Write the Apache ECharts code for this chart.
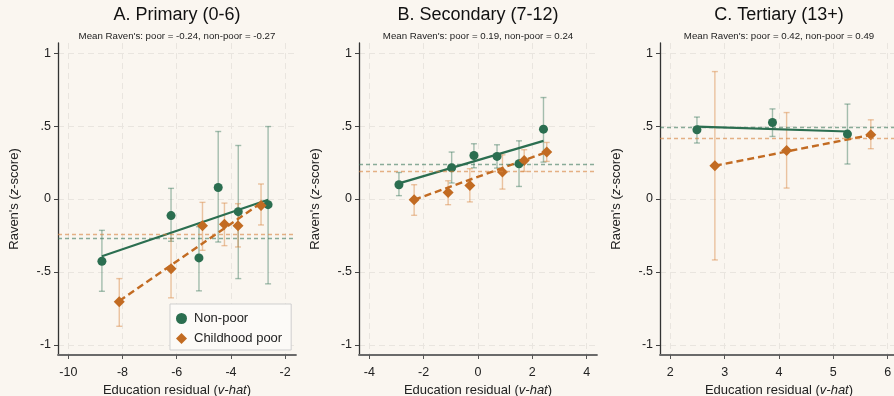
<!DOCTYPE html>
<html>
<head>
<meta charset="utf-8">
<script src="https://cdn.jsdelivr.net/npm/echarts@6/dist/echarts.min.js"></script>
<style>
  html, body { margin: 0; background: #faf6f0; }
  #chart { width: 894px; height: 396px; }
</style>
</head>
<body>
<div id="chart"></div>
<script>
// panel titles and means
const panelTitles = ['A. Primary (0-6)', 'B. Secondary (7-12)', 'C. Tertiary (13+)']
const meanPoor = [-0.24, 0.19, 0.42]
const meanNonPoor = [-0.27, 0.24, 0.49]

// x axis ranges and tick labels per panel
const xMin = [-10.38, -4.38, 1.81]
const xMax = [-1.6, 4.38, 6.19]
const xTicks = [[-10, -8, -6, -4, -2], [-4, -2, 0, 2, 4], [2, 3, 4, 5, 6]]
const yTicks = [-1, -0.5, 0, 0.5, 1]

// A. Primary
const aNonPoorX = [-8.76, -6.21, -5.18, -4.47, -3.73, -2.63]
const aNonPoorY = [-0.427, -0.114, -0.404, 0.079, -0.087, -0.039]
const aNonPoorLo = [-0.633, -0.29, -0.63, -0.295, -0.546, -0.582]
const aNonPoorHi = [-0.215, 0.073, -0.19, 0.463, 0.367, 0.497]
const aPoorX = [-8.12, -6.21, -5.05, -4.24, -3.74, -2.89]
const aPoorY = [-0.705, -0.479, -0.183, -0.174, -0.183, -0.044]
const aPoorLo = [-0.873, -0.678, -0.352, -0.32, -0.329, -0.178]
const aPoorHi = [-0.546, -0.27, -0.023, -0.028, -0.032, 0.103]
const aFitNonPoor = [[-8.76, -0.393], [-2.63, -0.005]]
const aFitPoor = [[-8.12, -0.70], [-2.89, -0.027]]

// B. Secondary
const bNonPoorX = [-2.91, -0.97, -0.15, 0.70, 1.51, 2.41]
const bNonPoorY = [0.098, 0.214, 0.298, 0.292, 0.242, 0.479]
const bNonPoorLo = [0.023, 0.11, 0.214, 0.212, 0.086, 0.253]
const bNonPoorHi = [0.182, 0.322, 0.379, 0.372, 0.399, 0.696]
const bPoorX = [-2.35, -1.1, -0.3, 0.9, 1.7, 2.53]
const bPoorY = [-0.005, 0.045, 0.093, 0.185, 0.264, 0.322]
const bPoorLo = [-0.112, -0.039, -0.02, 0.068, 0.189, 0.258]
const bPoorHi = [0.098, 0.125, 0.208, 0.303, 0.338, 0.388]
const bFitNonPoor = [[-2.91, 0.107], [2.41, 0.399]]
const bFitPoor = [[-2.35, -0.005], [2.53, 0.322]]

// C. Tertiary
const cNonPoorX = [2.49, 3.88, 5.26]
const cNonPoorY = [0.475, 0.525, 0.445]
const cNonPoorLo = [0.384, 0.429, 0.24]
const cNonPoorHi = [0.562, 0.618, 0.651]
const cPoorX = [2.82, 4.14, 5.69]
const cPoorY = [0.228, 0.333, 0.44]
const cPoorLo = [-0.418, 0.075, 0.345]
const cPoorHi = [0.874, 0.593, 0.543]
const cFitNonPoor = [[2.49, 0.497], [5.26, 0.463]]
const cFitPoor = [[2.82, 0.228], [5.69, 0.44]]

const panels = [
  { np: [aNonPoorX, aNonPoorY, aNonPoorLo, aNonPoorHi], p: [aPoorX, aPoorY, aPoorLo, aPoorHi], fitNp: aFitNonPoor, fitP: aFitPoor },
  { np: [bNonPoorX, bNonPoorY, bNonPoorLo, bNonPoorHi], p: [bPoorX, bPoorY, bPoorLo, bPoorHi], fitNp: bFitNonPoor, fitP: bFitPoor },
  { np: [cNonPoorX, cNonPoorY, cNonPoorLo, cNonPoorHi], p: [cPoorX, cPoorY, cPoorLo, cPoorHi], fitNp: cFitNonPoor, fitP: cFitPoor },
]

const GREEN = '#2b6e50'
const ORANGE = '#c26b22'
const GREEN_LIGHT = 'rgba(43,110,80,0.42)'
const ORANGE_LIGHT = 'rgba(214,130,60,0.45)'
const FONT = 'Liberation Sans, Arial, sans-serif'
const gridLefts = [58, 359, 660]

const fmtY = (v) => {
  if (v === 0) return '0'
  if (Math.abs(v) === 1) return String(v)
  return (v < 0 ? '-' : '') + '.5'
}

function errorBars(color) {
  return (params, api) => {
    const x = api.value(0)
    const top = api.coord([x, api.value(2)])
    const bot = api.coord([x, api.value(1)])
    const w = 3
    const style = { stroke: color, lineWidth: 1.4 }
    return {
      type: 'group',
      children: [
        { type: 'line', shape: { x1: top[0], y1: top[1], x2: bot[0], y2: bot[1] }, style },
        { type: 'line', shape: { x1: top[0] - w, y1: top[1], x2: top[0] + w, y2: top[1] }, style },
        { type: 'line', shape: { x1: bot[0] - w, y1: bot[1], x2: bot[0] + w, y2: bot[1] }, style },
      ],
    }
  }
}

const grid = []
const xAxis = []
const yAxis = []
const series = []
const title = []

panels.forEach((pd, i) => {
  grid.push({ left: gridLefts[i], top: 43, width: 238, height: 312, outerBoundsMode: 'none', containLabel: false })
  const center = gridLefts[i] + 119
  title.push({
    text: panelTitles[i], left: center, top: 6, textAlign: 'center', padding: 0,
    textStyle: { fontFamily: FONT, fontSize: 18, fontWeight: 'normal', color: '#111' },
  })
  title.push({
    text: `Mean Raven's: poor = ${meanPoor[i].toFixed(2)}, non-poor = ${meanNonPoor[i].toFixed(2)}`,
    left: center, top: 31, textAlign: 'center', padding: 0,
    textStyle: { fontFamily: FONT, fontSize: 9.7, fontWeight: 'normal', color: '#222' },
  })
  xAxis.push({
    type: 'value', gridIndex: i, min: xMin[i], max: xMax[i],
    name: 'Education residual ({it|v-hat})',
    nameLocation: 'middle', nameGap: 29,
    nameTextStyle: {
      fontFamily: FONT, fontSize: 13, color: '#222',
      rich: { it: { fontFamily: FONT, fontSize: 13, color: '#222', fontStyle: 'italic' } },
    },
    axisLine: { show: true, onZero: false, lineStyle: { color: '#6a6a6a', width: 1.8 } },
    axisTick: { show: true, length: 4, customValues: xTicks[i], lineStyle: { color: '#555' } },
    axisLabel: { customValues: xTicks[i], margin: 11, fontFamily: FONT, fontSize: 12.5, color: '#222' },
    splitLine: { show: true, lineStyle: { color: '#e9e5df', type: [6, 4], width: 1 } },
  })
  yAxis.push({
    type: 'value', gridIndex: i, min: -1.07, max: 1.07,
    name: "Raven's ({it|z}-score)",
    nameLocation: 'middle', nameGap: 37,
    nameTextStyle: {
      fontFamily: FONT, fontSize: 13, color: '#222',
      rich: { it: { fontFamily: FONT, fontSize: 13, color: '#222', fontStyle: 'italic' } },
    },
    axisLine: { show: true, onZero: false, lineStyle: { color: '#333', width: 1.3 } },
    axisTick: { show: true, length: 4, customValues: yTicks, lineStyle: { color: '#444' } },
    axisLabel: { customValues: yTicks, margin: 7, formatter: fmtY, fontFamily: FONT, fontSize: 12.5, color: '#222' },
    splitLine: { show: true, lineStyle: { color: '#e9e5df', type: [6, 4], width: 1 } },
  })

  const np = pd.np, p = pd.p
  series.push({
    type: 'custom', xAxisIndex: i, yAxisIndex: i, renderItem: errorBars(GREEN_LIGHT),
    encode: { x: 0, y: [1, 2] }, silent: true, z: 1,
    data: np[0].map((x, k) => [x, np[2][k], np[3][k]]),
  })
  series.push({
    type: 'custom', xAxisIndex: i, yAxisIndex: i, renderItem: errorBars(ORANGE_LIGHT),
    encode: { x: 0, y: [1, 2] }, silent: true, z: 1,
    data: p[0].map((x, k) => [x, p[2][k], p[3][k]]),
  })
  series.push({
    type: 'line', xAxisIndex: i, yAxisIndex: i, data: pd.fitNp, symbol: 'none', z: 3, silent: true,
    lineStyle: { color: GREEN, width: 2.2 },
  })
  series.push({
    type: 'line', xAxisIndex: i, yAxisIndex: i, data: pd.fitP, symbol: 'none', z: 3, silent: true,
    lineStyle: { color: ORANGE, width: 2.4, type: [7, 4] },
  })
  series.push({
    name: 'Non-poor', type: 'scatter', xAxisIndex: i, yAxisIndex: i, symbol: 'circle', symbolSize: 9, z: 4,
    itemStyle: { color: GREEN, opacity: 1 },
    data: np[0].map((x, k) => [x, np[1][k]]),
    markLine: {
      silent: true, symbol: 'none', label: { show: false },
      lineStyle: { color: 'rgba(43,110,80,0.55)', type: [4, 3], width: 1.3 },
      data: [{ yAxis: meanNonPoor[i] }],
    },
  })
  series.push({
    name: 'Childhood poor', type: 'scatter', xAxisIndex: i, yAxisIndex: i, symbol: 'diamond', symbolSize: 11, z: 4,
    itemStyle: { color: ORANGE, opacity: 1 },
    data: p[0].map((x, k) => [x, p[1][k]]),
    markLine: {
      silent: true, symbol: 'none', label: { show: false },
      lineStyle: { color: 'rgba(214,130,60,0.6)', type: [4, 3], width: 1.3 },
      data: [{ yAxis: meanPoor[i] }],
    },
  })
})

const chart = echarts.init(document.getElementById('chart'))
chart.setOption({
  backgroundColor: '#faf6f0',
  animation: false,
  title,
  grid,
  xAxis,
  yAxis,
  series,
  legend: {
    data: ['Non-poor', 'Childhood poor'],
    orient: 'vertical',
    left: 170, top: 304,
    itemWidth: 11, itemHeight: 11, itemGap: 7,
    padding: [8, 9, 5, 6],
    backgroundColor: '#fcfaf7',
    borderColor: '#cfcfcf', borderWidth: 1, borderRadius: 0,
    selectedMode: false,
    textStyle: { fontFamily: FONT, fontSize: 13, color: '#222', padding: [0, 0, 0, 2] },
  },
})
</script>
</body>
</html>
